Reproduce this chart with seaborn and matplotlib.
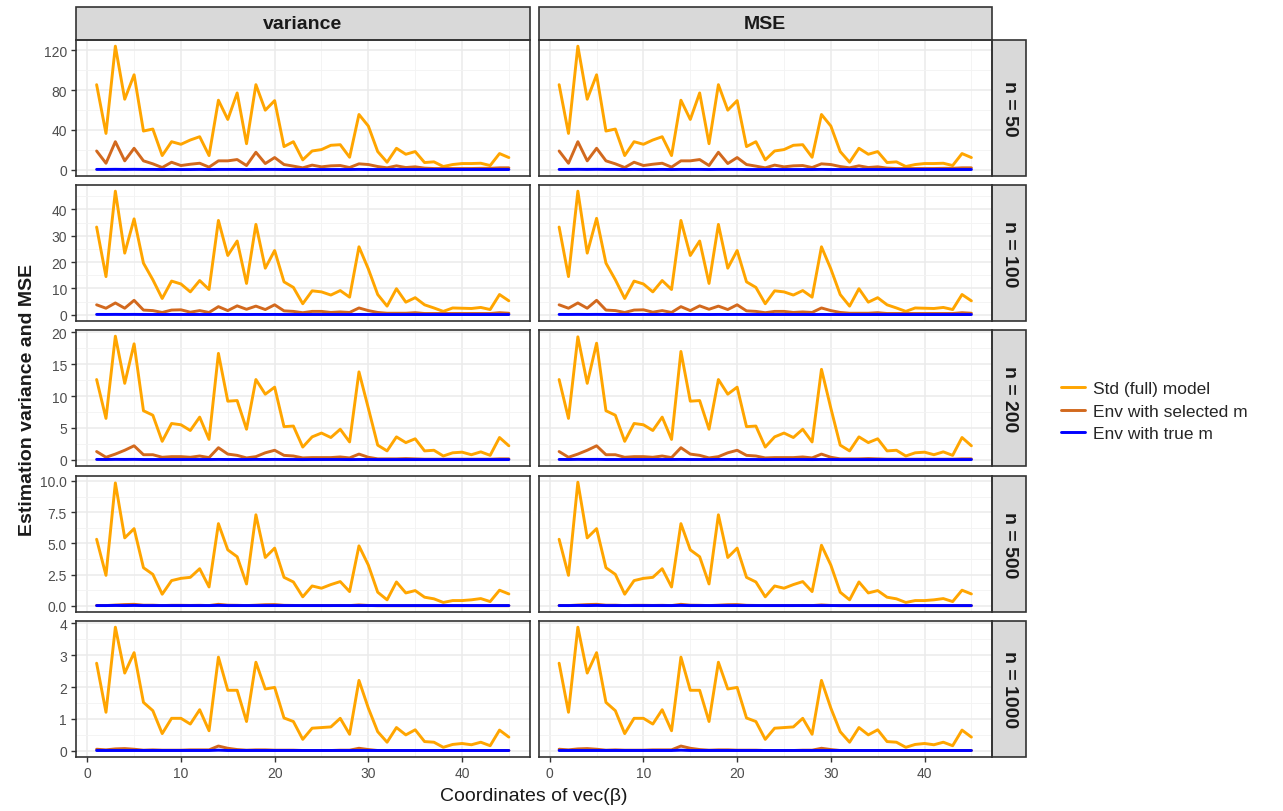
import numpy as np
import pandas as pd
import matplotlib
matplotlib.use("Agg")
import matplotlib.pyplot as plt
from matplotlib.patches import Rectangle
from matplotlib.ticker import MultipleLocator
import seaborn as sns

coords = list(range(1, 46))
sample_sizes = [50, 100, 200, 500, 1000]
methods = ["Std (full) model", "Env with selected m", "Env with true m"]
colors = ["#FFA500", "#D2691E", "#0000FF"]

# variance, standard (full) model
var_std_50 = [85.4, 36.5, 124, 70.8, 95.3, 38.9, 40.9, 14.3, 28.2, 25.6, 29.9, 33.2, 14.3, 69.8, 50.5,
              77.1, 26.2, 85.4, 59.8, 69.4, 23.3, 28.2, 10.0, 18.9, 20.3, 24.6, 25.2, 12.6, 55.5, 43.9,
              18.3, 7.6, 21.6, 15.6, 18.3, 7.3, 8.0, 3.3, 5.3, 6.3, 6.3, 6.6, 4.3, 16.3, 12.3]
var_std_100 = [33.3, 14.5, 46.9, 23.4, 36.4, 19.6, 13.3, 6.2, 12.8, 11.7, 8.7, 13.0, 9.6, 35.8, 22.5,
               28.0, 11.9, 34.3, 17.7, 24.4, 12.5, 10.4, 4.2, 9.1, 8.7, 7.5, 9.2, 6.7, 25.8, 17.4,
               7.7, 3.3, 9.9, 4.8, 6.5, 3.8, 2.6, 1.3, 2.6, 2.5, 2.4, 2.8, 2.0, 7.7, 5.3]
var_std_200 = [12.6, 6.5, 19.4, 12.0, 18.2, 7.7, 7.0, 2.9, 5.7, 5.5, 4.6, 6.7, 3.2, 16.7, 9.2,
               9.3, 4.8, 12.6, 10.3, 11.4, 5.2, 5.3, 2.0, 3.6, 4.2, 3.5, 4.8, 2.8, 13.8, 8.1,
               2.3, 1.4, 3.6, 2.7, 3.3, 1.4, 1.5, 0.6, 1.1, 1.2, 0.8, 1.25, 0.7, 3.5, 2.2]
var_std_500 = [5.33, 2.44, 9.84, 5.44, 6.18, 3.05, 2.52, 0.93, 2.02, 2.20, 2.28, 2.97, 1.51, 6.58, 4.48,
               3.93, 1.75, 7.29, 3.87, 4.62, 2.28, 1.91, 0.72, 1.59, 1.41, 1.70, 1.94, 1.14, 4.80, 3.26,
               1.09, 0.48, 1.91, 1.03, 1.22, 0.69, 0.56, 0.27, 0.42, 0.42, 0.48, 0.58, 0.34, 1.25, 0.95]
var_std_1000 = [2.75, 1.21, 3.88, 2.44, 3.08, 1.52, 1.26, 0.54, 1.02, 1.02, 0.84, 1.29, 0.63, 2.94, 1.90,
                1.90, 0.92, 2.78, 1.94, 1.99, 1.03, 0.92, 0.36, 0.71, 0.73, 0.75, 1.02, 0.52, 2.21, 1.34,
                0.60, 0.27, 0.73, 0.50, 0.66, 0.29, 0.27, 0.11, 0.20, 0.23, 0.19, 0.27, 0.16, 0.65, 0.43]

# MSE, standard (full) model
mse_std_50 = [85.4, 36.5, 124, 70.8, 95.3, 38.9, 40.9, 14.3, 28.2, 25.6, 29.9, 33.2, 14.3, 69.8, 50.5,
              77.1, 26.2, 85.4, 59.8, 69.4, 23.3, 28.2, 10.0, 18.9, 20.3, 24.6, 25.2, 12.6, 55.5, 43.9,
              18.3, 7.6, 21.6, 15.6, 18.3, 7.3, 8.0, 3.3, 5.3, 6.3, 6.3, 6.6, 4.3, 16.3, 12.3]
mse_std_100 = [33.3, 14.5, 46.9, 23.4, 36.6, 19.6, 13.3, 6.2, 12.8, 11.7, 8.7, 13.0, 9.6, 35.8, 22.5,
               28.0, 11.9, 34.3, 17.7, 24.4, 12.5, 10.4, 4.2, 9.1, 8.7, 7.5, 9.2, 6.7, 25.8, 17.4,
               7.7, 3.3, 9.9, 4.8, 6.5, 3.8, 2.6, 1.3, 2.6, 2.5, 2.4, 2.8, 2.0, 7.7, 5.3]
mse_std_200 = [12.6, 6.5, 19.3, 12.0, 18.3, 7.7, 7.0, 2.9, 5.7, 5.5, 4.6, 6.7, 3.2, 17.0, 9.2,
               9.3, 4.8, 12.6, 10.3, 11.4, 5.2, 5.3, 2.0, 3.6, 4.2, 3.5, 4.8, 2.8, 14.2, 8.1,
               2.3, 1.4, 3.6, 2.7, 3.3, 1.4, 1.5, 0.6, 1.1, 1.2, 0.8, 1.25, 0.7, 3.5, 2.2]
mse_std_500 = [5.33, 2.44, 9.9, 5.44, 6.18, 3.05, 2.52, 0.93, 2.02, 2.20, 2.28, 2.97, 1.51, 6.58, 4.48,
               3.93, 1.75, 7.29, 3.87, 4.62, 2.28, 1.91, 0.72, 1.59, 1.41, 1.70, 1.94, 1.14, 4.85, 3.26,
               1.09, 0.48, 1.91, 1.03, 1.22, 0.69, 0.56, 0.27, 0.42, 0.42, 0.48, 0.58, 0.34, 1.25, 0.95]
mse_std_1000 = [2.75, 1.21, 3.88, 2.44, 3.08, 1.52, 1.26, 0.54, 1.02, 1.02, 0.84, 1.29, 0.63, 2.94, 1.90,
                1.90, 0.92, 2.78, 1.94, 1.99, 1.03, 0.92, 0.36, 0.71, 0.73, 0.75, 1.02, 0.52, 2.21, 1.34,
                0.60, 0.27, 0.73, 0.50, 0.66, 0.29, 0.27, 0.11, 0.20, 0.23, 0.19, 0.27, 0.16, 0.65, 0.43]

# envelope with selected m (same in both columns)
sel_50 = [18.9, 6.6, 28.2, 9.0, 21.6, 9.0, 6.0, 2.3, 7.6, 4.3, 5.6, 6.6, 2.7, 9.0, 9.0,
          10.3, 4.3, 17.6, 6.3, 12.3, 5.3, 3.7, 2.0, 4.7, 3.0, 4.0, 4.3, 2.3, 6.0, 5.3,
          3.3, 2.0, 4.0, 2.3, 3.0, 1.7, 1.3, 1.3, 1.3, 1.3, 1.3, 1.5, 1.5, 2.0, 2.0]
sel_100 = [3.8, 2.5, 4.5, 2.5, 5.5, 1.8, 1.6, 0.9, 1.8, 1.9, 1.0, 1.6, 0.9, 3.1, 1.6,
           3.4, 2.1, 3.3, 2.0, 3.8, 1.5, 1.3, 0.8, 1.3, 1.3, 0.9, 1.1, 0.9, 2.6, 1.6,
           0.9, 0.6, 0.6, 0.6, 0.8, 0.5, 0.5, 0.5, 0.5, 0.5, 0.5, 0.5, 0.5, 0.8, 0.6]
sel_200 = [1.3, 0.4, 0.9, 1.5, 2.2, 0.8, 0.8, 0.4, 0.5, 0.5, 0.4, 0.6, 0.35, 1.9, 0.9,
           0.7, 0.3, 0.5, 1.1, 1.5, 0.7, 0.6, 0.3, 0.35, 0.35, 0.35, 0.45, 0.3, 0.9, 0.4,
           0.15, 0.15, 0.15, 0.2, 0.15, 0.1, 0.1, 0.1, 0.1, 0.1, 0.1, 0.1, 0.1, 0.15, 0.15]
sel_500 = [0.03, 0.02, 0.06, 0.10, 0.12, 0.05, 0.05, 0.02, 0.04, 0.04, 0.03, 0.04, 0.02, 0.12, 0.05,
           0.04, 0.02, 0.05, 0.09, 0.10, 0.04, 0.03, 0.02, 0.02, 0.02, 0.02, 0.03, 0.02, 0.07, 0.03,
           0.01, 0.01, 0.01, 0.01, 0.01, 0.01, 0.01, 0.01, 0.01, 0.01, 0.01, 0.01, 0.01, 0.01, 0.01]
sel_1000 = [0.05, 0.03, 0.06, 0.07, 0.05, 0.02, 0.03, 0.02, 0.02, 0.02, 0.03, 0.03, 0.03, 0.15, 0.08,
            0.04, 0.02, 0.03, 0.03, 0.02, 0.02, 0.02, 0.01, 0.01, 0.01, 0.01, 0.02, 0.02, 0.08, 0.04,
            0.01, 0.01, 0.01, 0.01, 0.01, 0.01, 0.01, 0.01, 0.01, 0.01, 0.01, 0.01, 0.01, 0.01, 0.01]

# envelope with true m (flat, close to zero)
true_50 = [0.4, 0.4, 0.5, 0.4, 0.5, 0.4, 0.4, 0.3, 0.4, 0.3, 0.3, 0.4, 0.3, 0.4, 0.4,
           0.4, 0.3, 0.4, 0.4, 0.4, 0.3, 0.3, 0.3, 0.3, 0.3, 0.3, 0.3, 0.3, 0.4, 0.3,
           0.3, 0.3, 0.3, 0.3, 0.3, 0.3, 0.3, 0.3, 0.3, 0.3, 0.3, 0.3, 0.3, 0.3, 0.3]
true_100 = [0.15, 0.14, 0.16, 0.14, 0.16, 0.13, 0.13, 0.12, 0.13, 0.13, 0.12, 0.13, 0.12, 0.15, 0.13,
            0.14, 0.12, 0.14, 0.13, 0.14, 0.12, 0.12, 0.11, 0.12, 0.12, 0.12, 0.12, 0.11, 0.13, 0.12,
            0.11, 0.11, 0.11, 0.11, 0.11, 0.11, 0.11, 0.11, 0.11, 0.11, 0.11, 0.11, 0.11, 0.11, 0.11]
true_200 = [0.06, 0.05, 0.07, 0.06, 0.07, 0.05, 0.05, 0.05, 0.05, 0.05, 0.05, 0.05, 0.05, 0.06, 0.05,
            0.05, 0.05, 0.06, 0.05, 0.06, 0.05, 0.05, 0.04, 0.05, 0.05, 0.05, 0.05, 0.04, 0.05, 0.05,
            0.04, 0.04, 0.04, 0.04, 0.04, 0.04, 0.04, 0.04, 0.04, 0.04, 0.04, 0.04, 0.04, 0.04, 0.04]
true_500 = [0.02, 0.02, 0.03, 0.02, 0.03, 0.02, 0.02, 0.02, 0.02, 0.02, 0.02, 0.02, 0.02, 0.03, 0.02,
            0.02, 0.02, 0.02, 0.02, 0.02, 0.02, 0.02, 0.02, 0.02, 0.02, 0.02, 0.02, 0.02, 0.02, 0.02,
            0.02, 0.02, 0.02, 0.02, 0.02, 0.02, 0.02, 0.02, 0.02, 0.02, 0.02, 0.02, 0.02, 0.02, 0.02]
true_1000 = [0.01, 0.01, 0.01, 0.01, 0.01, 0.01, 0.01, 0.01, 0.01, 0.01, 0.01, 0.01, 0.01, 0.02, 0.01,
             0.01, 0.01, 0.01, 0.01, 0.01, 0.01, 0.01, 0.01, 0.01, 0.01, 0.01, 0.01, 0.01, 0.01, 0.01,
             0.01, 0.01, 0.01, 0.01, 0.01, 0.01, 0.01, 0.01, 0.01, 0.01, 0.01, 0.01, 0.01, 0.01, 0.01]

std_var = [var_std_50, var_std_100, var_std_200, var_std_500, var_std_1000]
std_mse = [mse_std_50, mse_std_100, mse_std_200, mse_std_500, mse_std_1000]
sel_all = [sel_50, sel_100, sel_200, sel_500, sel_1000]
true_all = [true_50, true_100, true_200, true_500, true_1000]

y_ticks = [[0, 40, 80, 120], [0, 10, 20, 30, 40], [0, 5, 10, 15, 20],
           [0, 2.5, 5, 7.5, 10], [0, 1, 2, 3, 4]]
y_ticklabels = [["0", "40", "80", "120"], ["0", "10", "20", "30", "40"], ["0", "5", "10", "15", "20"],
                ["0.0", "2.5", "5.0", "7.5", "10.0"], ["0", "1", "2", "3", "4"]]
col_titles = ["variance", "MSE"]

rows = []
for r, n in enumerate(sample_sizes):
    for c, col in enumerate(col_titles):
        stdv = std_var[r] if c == 0 else std_mse[r]
        for vals, m in zip([stdv, sel_all[r], true_all[r]], methods):
            for x, v in zip(coords, vals):
                rows.append({"n": n, "stat": col, "coord": x, "method": m, "value": v})
df = pd.DataFrame(rows)

sns.set_style("white")
plt.rcParams["font.family"] = ["Liberation Sans", "DejaVu Sans"]

W, H = 1283, 812
fig = plt.figure(figsize=(W / 100, H / 100), dpi=100)

col_left = [76, 538.5]
col_w = 453.5
row_top = [41, 186, 331, 477, 622]
row_h = 136
strip_h = 33
strip_w = 34
edge = "#333333"

x_lo, x_hi = 1 - 0.05 * 44, 45 + 0.05 * 44

for r, n in enumerate(sample_sizes):
    sub_r = df[df["n"] == n]
    ymax = sub_r["value"].max()
    ymin = min(sub_r["value"].min(), 0)
    span = ymax - ymin
    for c, col in enumerate(col_titles):
        ax = fig.add_axes([col_left[c] / W, 1 - (row_top[r] + row_h) / H, col_w / W, row_h / H])
        sub = sub_r[sub_r["stat"] == col]
        sns.lineplot(data=sub, x="coord", y="value", hue="method", hue_order=methods,
                     palette=colors, linewidth=2.1, ax=ax, legend=False)
        ax.set_xlim(x_lo, x_hi)
        ax.set_ylim(ymin - 0.05 * span, ymax + 0.05 * span)
        ax.set_xlabel("")
        ax.set_ylabel("")
        ax.set_xticks([0, 10, 20, 30, 40])
        ax.xaxis.set_minor_locator(MultipleLocator(5))
        ax.set_yticks(y_ticks[r])
        step = y_ticks[r][1] - y_ticks[r][0]
        ax.yaxis.set_minor_locator(MultipleLocator(step / 2))
        ax.grid(True, which="major", color="#EBEBEB", linewidth=1.1)
        ax.grid(True, which="minor", color="#F3F3F3", linewidth=0.6)
        ax.set_axisbelow(True)
        for s in ax.spines.values():
            s.set_color(edge)
            s.set_linewidth(1.2)
        ax.tick_params(which="minor", length=0)
        ax.tick_params(which="major", direction="out", color=edge, length=3.5, width=1.0,
                       labelsize=10, labelcolor="#4D4D4D", pad=3)
        if c == 0:
            ax.tick_params(axis="y", left=True)
            ax.set_yticklabels(y_ticklabels[r])
        else:
            ax.tick_params(axis="y", left=False, labelleft=False)
        if r == len(sample_sizes) - 1:
            ax.tick_params(axis="x", bottom=True)
            ax.set_xticklabels(["0", "10", "20", "30", "40"])
        else:
            ax.tick_params(axis="x", bottom=False, labelbottom=False)

        if r == 0:
            hf = strip_h / row_h
            ax.add_patch(Rectangle((0, 1), 1, hf, transform=ax.transAxes, clip_on=False,
                                   facecolor="#D9D9D9", edgecolor=edge, linewidth=1.2))
            ax.text(0.5, 1 + hf / 2, col, transform=ax.transAxes, ha="center", va="center",
                    fontsize=14, fontweight="bold", color="#1A1A1A")
        if c == 1:
            wf = strip_w / col_w
            ax.add_patch(Rectangle((1, 0), wf, 1, transform=ax.transAxes, clip_on=False,
                                   facecolor="#D9D9D9", edgecolor=edge, linewidth=1.2))
            ax.text(1 + wf / 2, 0.5, f"n = {n}", transform=ax.transAxes, ha="center",
                    va="center", rotation=-90, fontsize=14, fontweight="bold", color="#1A1A1A")

fig.text((76 + 992) / 2 / W, 1 - 797 / H, "Coordinates of vec(β)", ha="center", va="center",
         fontsize=14, color="#1A1A1A")
fig.text(28 / W, 1 - 400 / H, "Estimation variance and MSE", ha="center", va="center",
         rotation=90, fontsize=14, fontweight="bold", color="#1A1A1A")

handles = [plt.Line2D([], [], color=cl, linewidth=2.1) for cl in colors]
fig.legend(handles, methods, loc="center left", bbox_to_anchor=(1054 / W, 1 - 412 / H),
           frameon=False, fontsize=12.5, handlelength=1.4, handletextpad=0.45,
           labelspacing=0.42, borderaxespad=0)

fig.savefig("out.png", dpi=100)
